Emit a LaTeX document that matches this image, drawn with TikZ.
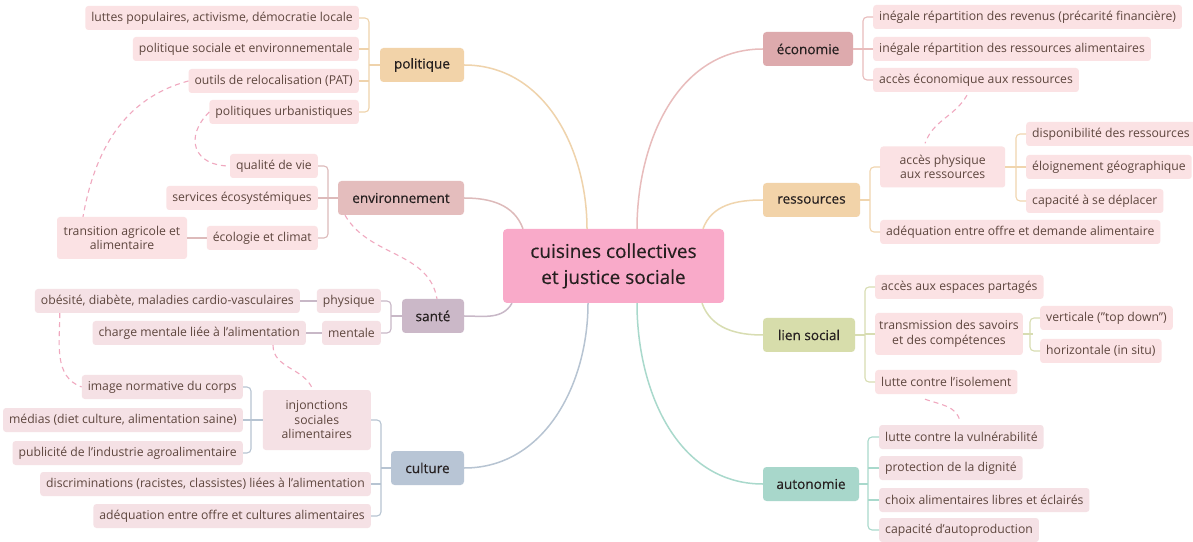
\documentclass[tikz,border=0pt]{standalone}
\usepackage{fontspec}
\setmainfont{Open Sans}
\newfontfamily\mainlabelfont[FakeBold=0.35]{Open Sans}
\usetikzlibrary{calc}
\definecolor{fcenter}{HTML}{F9AAC9}
\definecolor{fpol}{HTML}{F2D3A9}
\definecolor{fenv}{HTML}{E4BDBD}
\definecolor{fsan}{HTML}{CBB8C8}
\definecolor{fcul}{HTML}{B8C5D5}
\definecolor{feco}{HTML}{DDAAAD}
\definecolor{fres}{HTML}{F2D3A9}
\definecolor{flien}{HTML}{D7DDAB}
\definecolor{fauto}{HTML}{A8D7CB}
\definecolor{lpol}{HTML}{EFD3AC}
\definecolor{lenv}{HTML}{DDBABA}
\definecolor{lsan}{HTML}{C8B8C7}
\definecolor{lcul}{HTML}{B7C4D2}
\definecolor{leco}{HTML}{E8BCBC}
\definecolor{lres}{HTML}{F0D5AE}
\definecolor{llien}{HTML}{D8DDB2}
\definecolor{lauto}{HTML}{A9D9CC}
\definecolor{leaffill}{HTML}{FBE2E4}
\definecolor{leaffillb}{HTML}{F5E1E5}
\definecolor{leaftext}{HTML}{5E463E}
\definecolor{maintext}{HTML}{262020}
\definecolor{dashc}{HTML}{F0A8BF}
\begin{document}
\begin{tikzpicture}[x=1pt,y=1pt,
  leaf/.style={fill=leaffill, rounded corners=3pt, text=leaftext, inner xsep=6pt, inner ysep=0pt, minimum height=24pt, align=center, font=\fontsize{12.2}{14.5}\selectfont},
  leafb/.style={leaf, fill=leaffillb},
  mainb/.style={rounded corners=3.5pt, text=maintext, minimum height=34pt, inner sep=0pt, font=\mainlabelfont\fontsize{13.6}{16}\selectfont},
  trunk/.style={line width=1.5pt},
  brk/.style={line width=1.1pt, rounded corners=4pt},
  dashlink/.style={draw=dashc, line width=1.1pt, dash pattern=on 5pt off 4pt}
]
\useasboundingbox (0,0) rectangle (1193,541);
\fill[white] (0,0) rectangle (1193,541);

% center
\node[fill=fcenter, rounded corners=4pt, text=maintext, minimum width=221pt, minimum height=74pt, align=center, font=\mainlabelfont\fontsize{19}{26}\selectfont] (c) at (613.5,275) {cuisines collectives\\et justice sociale};

% main branches
\node[mainb, fill=fpol, minimum width=84pt] (pol) at (422,476) {politique};
\node[mainb, fill=fenv, minimum width=126pt] (env) at (401,343) {environnement};
\node[mainb, fill=fsan, minimum width=62pt] (san) at (433,225) {santé};
\node[mainb, fill=fcul, minimum width=73pt] (cul) at (427.5,73) {culture};
\node[mainb, fill=feco, minimum width=90pt] (eco) at (808,492) {économie};
\node[mainb, fill=fres, minimum width=97pt] (res) at (811.5,341) {ressources};
\node[mainb, fill=flien, minimum width=92pt] (lien) at (809,206) {lien social};
\node[mainb, fill=fauto, minimum width=96pt] (aut) at (811,57) {autonomie};

% politique leaves
\node[leaf, anchor=east] (L1) at (359,523) {luttes populaires, activisme, démocratie locale};
\node[leaf, anchor=east] (L2) at (359,492) {politique sociale et environnementale};
\node[leaf, anchor=east] (L3) at (359,460) {outils de relocalisation (PAT)};
\node[leaf, anchor=east] (L4) at (359,429) {politiques urbanistiques};
% environnement leaves
\node[leaf, anchor=east] (E1) at (318,375) {qualité de vie};
\node[leaf, anchor=east] (E2) at (318,343) {services écosystémiques};
\node[leaf, anchor=east] (E3) at (318,303) {écologie et climat};
\node[leaf, inner xsep=4pt, minimum width=130pt, minimum height=42pt] (E4) at (122,303) {transition agricole et\\alimentaire};
% santé leaves
\node[leafb, anchor=east] (S1) at (381,240) {physique};
\node[leafb, anchor=east] (S2) at (381,208) {mentale};
\node[leafb, anchor=east] (S3) at (300,240) {obésité, diabète, maladies cardio-vasculaires};
\node[leafb, anchor=east] (S4) at (306,208) {charge mentale liée à l'alimentation};
% culture leaves
\node[leafb, anchor=east, minimum width=108pt, minimum height=60pt] (C1) at (371,121) {injonctions\\sociales\\alimentaires};
\node[leafb, anchor=east] (C2) at (371,57) {discriminations (racistes, classistes) liées à l'alimentation};
\node[leafb, anchor=east] (C3) at (371,25) {adéquation entre offre et cultures alimentaires};
\node[leafb, anchor=east] (I1) at (243,154) {image normative du corps};
\node[leafb, anchor=east] (I2) at (243,121) {médias (diet culture, alimentation saine)};
\node[leafb, anchor=east] (I3) at (243,88) {publicité de l'industrie agroalimentaire};
% économie leaves
\node[leaf, anchor=west] (R1) at (873,524) {inégale répartition des revenus (précarité financière)};
\node[leaf, anchor=west] (R2) at (873,492) {inégale répartition des ressources alimentaires};
\node[leaf, anchor=west] (R3) at (873,461) {accès économique aux ressources};
% ressources leaves
\node[leaf, anchor=west, minimum width=125pt, minimum height=41pt] (AP) at (880,374) {accès physique\\aux ressources};
\node[leaf, anchor=west] (AD) at (880,309) {adéquation entre offre et demande alimentaire};
\node[leaf, anchor=west] (P1) at (1026,407) {disponibilité des ressources};
\node[leaf, anchor=west] (P2) at (1026,374) {éloignement géographique};
\node[leaf, anchor=west] (P3) at (1026,340) {capacité à se déplacer};
% lien social leaves
\node[leaf, anchor=west] (N1) at (875,254) {accès aux espaces partagés};
\node[leaf, anchor=west, inner xsep=4pt, minimum width=145pt, minimum height=42pt] (N2) at (875,207) {transmission des savoirs\\et des compétences};
\node[leaf, anchor=west] (N3) at (875,159) {lutte contre l'isolement};
\node[leaf, anchor=west] (T1) at (1040,223) {verticale ("top down")};
\node[leaf, anchor=west] (T2) at (1040,190) {horizontale (in situ)};
% autonomie leaves
\node[leafb, anchor=west] (A1) at (879,104) {lutte contre la vulnérabilité};
\node[leafb, anchor=west] (A2) at (879,73) {protection de la dignité};
\node[leafb, anchor=west] (A3) at (879,41) {choix alimentaires libres et éclairés};
\node[leafb, anchor=west] (A4) at (879,11) {capacité d'autoproduction};

% trunks
\draw[trunk, lpol] ([xshift=-26.5pt]c.north) to[out=90,in=0] (pol.east);
\draw[trunk, lenv] ([xshift=-90.5pt]c.north) to[out=110,in=0] (env.east);
\draw[trunk, lsan] ([xshift=-101.5pt]c.south) to[out=-120,in=0] (san.east);
\draw[trunk, lcul] ([xshift=-25.5pt]c.south) to[out=-90,in=0] (cul.east);
\draw[trunk, leco] ([xshift=23.5pt]c.north) to[out=90,in=180] (eco.west);
\draw[trunk, lres] ([xshift=89.5pt]c.north) to[out=70,in=180] (res.west);
\draw[trunk, llien] ([xshift=88.5pt]c.south) to[out=-70,in=180] (lien.west);
\draw[trunk, lauto] ([xshift=23.5pt]c.south) to[out=-90,in=180] (aut.west);

% brackets: politique
\draw[brk, lpol] (L1.east) -- ++(10,0) |- (L4.east);
\draw[brk, lpol] (L2.east) -- ++(10,0) (L3.east) -- ++(10,0) (pol.west) -- ++(-11,0);
% environnement
\draw[brk, lenv] (E1.east) -- ++(10,0) |- (E3.east);
\draw[brk, lenv] (E2.east) -- (env.west);
\draw[brk, lenv] (E4.east) -- (E3.west);
% santé
\draw[brk, lsan] (S1.east) -- ++(10,0) |- (S2.east);
\draw[brk, lsan] (san.west) -- ++(-11,0);
\draw[brk, lsan] (S3.east) -- (S1.west) (S4.east) -- (S2.west);
% culture
\draw[brk, lcul] (C1.east) -- ++(10,0) |- (C3.east);
\draw[brk, lcul] (C2.east) -- ++(10,0) (cul.west) -- ++(-10,0);
\draw[brk, lcul] (I1.east) -- ++(8,0) |- (I3.east);
\draw[brk, lcul] (I2.east) -- (C1.west);
% économie
\draw[brk, leco] (R1.west) -- ++(-10,0) |- (R3.west);
\draw[brk, leco] (R2.west) -- ++(-10,0) (eco.east) -- ++(10,0);
% ressources
\draw[brk, lres] (AP.west) -- ++(-10,0) |- (AD.west);
\draw[brk, lres] (res.east) -- ++(10,0);
\draw[brk, lres] (P1.west) -- ++(-10,0) |- (P3.west);
\draw[brk, lres] (P2.west) -- (AP.east);
% lien social
\draw[brk, llien] (N1.west) -- ++(-10,0) |- (N3.west);
\draw[brk, llien] (N2.west) -- ++(-10,0) (lien.east) -- ++(10,0);
\draw[brk, llien] (T1.west) -- ++(-10,0) |- (T2.west);
\draw[brk, llien] (N2.east) -- ++(10,0);
% autonomie
\draw[brk, lauto] (A1.west) -- ++(-11,0) |- (A4.west);
\draw[brk, lauto] (A2.west) -- ++(-11,0) (A3.west) -- ++(-11,0) (aut.east) -- ++(9,0);

% dashed links
\draw[dashlink] (L3.west) to[out=195,in=80] ([xshift=-39pt]E4.north);
\draw[dashlink] (L4.west) to[out=225,in=180,looseness=1.6] (E1.west);
\draw[dashlink] ([xshift=-56pt]env.south) to[out=-60,in=100] ([xshift=4pt]san.north);
\draw[dashlink] ([xshift=25pt]S3.south west) to[out=-90,in=160] (I1.west);
\draw[dashlink] ([xshift=-33pt]S4.south east) to[out=-90,in=110] ([xshift=-4pt]C1.north);
\draw[dashlink] ([xshift=94pt,yshift=-3pt]R3.south west) to[out=-120,in=70] ([xshift=45pt,yshift=3pt]AP.north west);
\draw[dashlink] ([xshift=50pt,yshift=-5pt]N3.south west) to[out=-20,in=100] ([xshift=81pt,yshift=3pt]A1.north west);
\end{tikzpicture}
\end{document}
